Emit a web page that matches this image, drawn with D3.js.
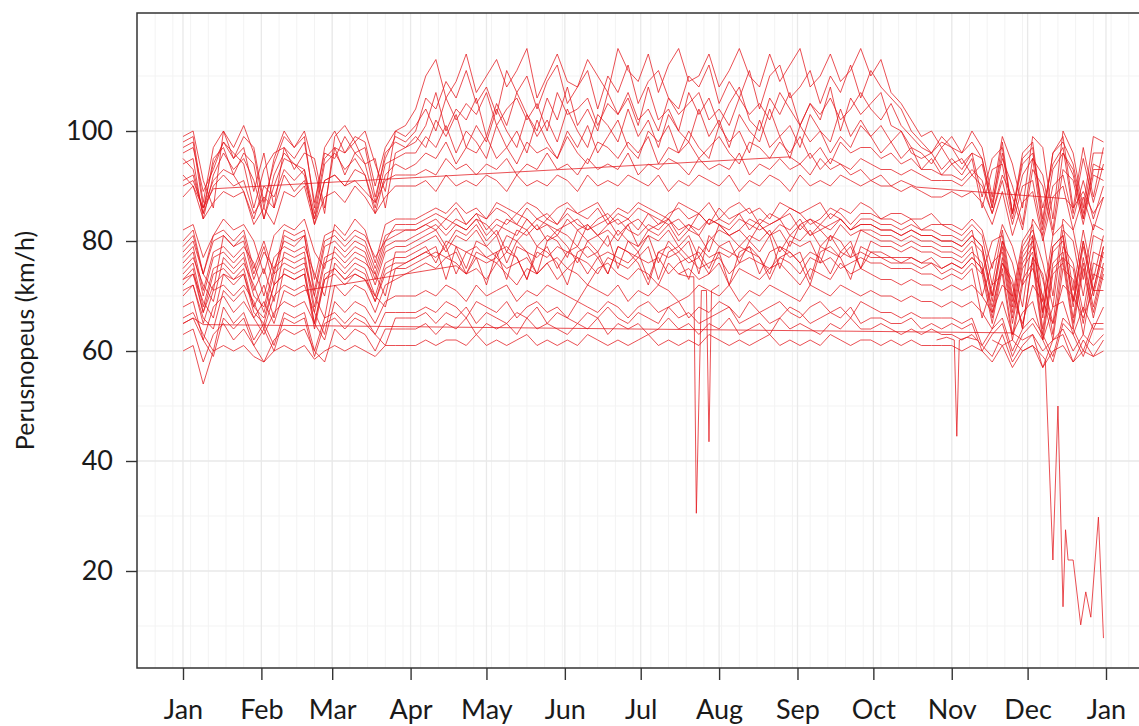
<!DOCTYPE html>
<html lang="fi">
<head>
<meta charset="UTF-8">
<title>Perusnopeus</title>
<script src="https://cdn.jsdelivr.net/npm/d3@7"></script>
<style>
  body { margin: 0; background: #fff; }
  .grid-major line { stroke: #e9e9e9; stroke-width: 1.3; }
  .grid-minor line { stroke: #f3f3f3; stroke-width: 1; }
  .speed { fill: none; stroke: #e3161b; stroke-opacity: 0.75; stroke-width: 1; }
  .axis text { font-family: Lato, sans-serif; font-size: 27px; fill: #1a1a1a; }
  .axis line { stroke: #333; stroke-width: 1.4; }
  .frame { fill: none; stroke: #333; stroke-width: 1.5; }
  .ytitle { font-family: Lato, sans-serif; font-size: 25px; fill: #1a1a1a; }
</style>
</head>
<body>
<svg width="1139" height="726"></svg>
<script>
// values are on a 4-day grid starting 1 Jan (null = missing day)
const startDate = Date.UTC(2018, 0, 1);
const stepDays = 4;
const yTicks = [20, 40, 60, 80, 100];
const yMinor = [10, 30, 50, 70, 90, 110];
const monthLabels = ["Jan","Feb","Mar","Apr","May","Jun","Jul","Aug","Sep","Oct","Nov","Dec","Jan"];

// upper roads (higher summer limit)
const a1 = [99,100,91,86,100,97,101,96,86,95,100,97,100,93,85,99,101,98,100,94,89,100,101,
  104,110,113,106,109,114,107,110,113,108,111,115,106,110,114,109,108,113,110,107,115,111,109,114,107,112,115,109,110,114,108,111,115,110,108,114,109,112,115,108,110,114,109,111,115,
  110,113,107,105,102,99,100,97,
  99,96,100,97,88,99,94,86,99,97,84,100,96,86,99,98];
const a2 = [97,98,86,94,98,95,97,89,96,86,97,95,98,87,96,95,99,96,97,88,95,99,98,
  100,106,104,109,106,111,105,108,103,111,107,110,104,109,112,105,108,111,104,110,107,112,105,109,111,106,104,110,108,112,105,109,106,111,104,110,112,106,108,111,105,110,107,112,106,
  111,108,106,104,100,98,96,99,
  97,94,96,88,95,97,85,95,97,83,96,98,94,85,96,96];
const a3 = [95,93,85,95,97,92,96,94,84,92,96,94,93,85,95,97,92,96,94,95,86,96,97,
  98,101,107,100,104,102,106,99,105,101,107,103,100,106,102,108,101,104,100,107,103,106,101,108,102,104,100,107,103,106,101,105,108,102,100,106,103,107,101,105,102,108,100,106,103,
  105,107,101,100,97,96,94,97,
  94,95,92,94,86,95,90,83,95,92,82,96,93,84,94,93];
const a4 = [96,97,89,93,98,96,94,86,93,96,97,93,96,95,86,97,96,98,94,87,96,98,97,
  99,97,102,99,103,97,101,98,104,100,97,103,99,102,98,104,100,97,103,101,98,104,99,102,97,103,100,98,104,99,102,97,103,100,98,104,99,101,97,103,100,98,104,99,102,
  99,101,98,100,96,95,96,93,
  95,93,96,95,87,96,85,94,96,86,94,97,85,95,87,94];
const a5 = [94,95,84,92,96,93,95,91,84,90,95,94,92,84,94,96,93,95,92,86,94,95,96,
  96,99,97,101,96,100,98,95,101,97,100,96,102,98,95,100,97,101,96,99,102,97,95,100,98,101,96,100,97,95,101,98,100,96,102,97,99,95,101,98,100,96,99,97,101,
  99,96,98,95,97,93,95,92,
  94,92,95,86,93,94,84,92,95,82,93,96,92,84,93,93];
const a6 = [92,90,86,91,93,92,89,84,90,88,93,91,93,83,91,92,90,93,92,85,92,94,93,
  94,96,95,98,94,97,96,99,95,97,94,98,96,97,95,99,96,94,98,97,95,98,96,99,94,97,96,98,95,97,99,96,94,98,97,95,98,96,99,95,97,94,98,96,97,
  97,95,96,94,95,93,93,92,
  92,91,93,91,85,92,88,82,93,90,81,93,91,83,92,91];
const a7 = [98,99,87,97,100,95,99,97,87,94,99,97,99,86,97,100,96,99,98,90,97,100,99,
  101,104,100,106,102,105,103,107,101,104,106,102,105,100,107,103,104,106,101,105,103,107,102,104,100,106,103,105,107,102,104,101,106,103,105,102,107,104,101,105,103,106,102,104,107,
  104,102,105,101,99,97,96,98,
  97,96,98,95,86,98,85,96,98,84,96,99,86,97,88,97];
const b1 = [91,92,85,90,92,90,91,85,88,86,92,89,91,84,91,92,90,91,89,87,91,92,92,
  92,93,92,95,93,94,92,94,93,95,92,94,93,96,93,94,92,95,93,94,93,96,92,94,93,95,94,92,95,93,94,93,96,92,94,93,95,93,94,92,95,93,94,93,95,
  94,93,93,92,93,92,91,91,
  91,90,92,90,85,91,83,90,91,81,90,92,84,91,84,90];
const b2 = [88,90,84,87,89,88,89,83,86,83,89,88,90,83,88,89,87,90,88,85,88,90,90,
  90,91,89,92,90,91,90,92,91,89,92,90,91,90,92,91,89,92,90,91,90,92,91,90,92,89,91,90,92,91,90,92,89,91,90,92,91,89,92,90,91,90,92,91,90,
  91,90,90,89,90,89,88,88,
  89,88,89,87,83,89,81,87,89,80,88,90,82,88,82,88];

// middle roads
const m1 = [82,83,77,81,84,82,83,80,74,81,83,82,84,78,75,83,81,84,82,76,83,84,84,
  84,85,86,85,87,85,86,84,87,86,85,87,86,84,86,87,85,86,87,84,86,85,87,86,85,84,87,86,85,87,84,86,87,85,86,84,87,86,85,86,87,84,86,85,87,
  86,84,85,85,84,84,85,83,
  83,82,84,82,75,83,79,72,84,81,70,84,82,73,83,82];
const m2 = [80,82,74,81,82,80,82,75,80,74,82,81,82,73,81,82,80,82,81,77,80,83,83,
  83,84,85,84,86,83,85,84,86,85,83,86,84,85,83,86,85,84,86,83,85,84,86,85,83,85,86,84,85,83,86,84,85,86,83,85,84,86,85,83,84,86,85,83,85,
  85,84,84,83,84,82,83,83,
  82,81,83,81,72,82,70,80,83,69,81,83,71,82,73,81];
const m3 = [78,80,74,71,81,79,80,73,78,75,80,79,81,70,79,80,78,80,79,74,80,81,82,
  82,83,84,82,84,83,85,82,84,83,85,84,82,84,83,85,83,82,84,85,83,84,82,85,84,83,84,82,85,83,84,83,85,82,84,83,84,85,82,84,83,85,84,82,84,
  84,83,83,82,83,82,82,81,
  81,80,82,74,80,81,69,79,82,76,68,82,80,70,81,80];
const m4 = [77,79,71,78,79,77,79,76,70,77,79,78,79,74,70,79,77,79,78,73,79,80,80,
  81,82,83,81,83,82,84,81,83,82,81,84,82,83,81,84,82,83,81,83,84,82,81,83,82,84,81,83,82,84,83,81,82,84,83,81,83,82,84,81,83,82,84,82,83,
  83,82,82,81,82,81,81,80,
  80,79,81,79,70,80,76,68,81,67,79,81,69,80,71,79];
const m5 = [76,78,70,77,78,76,78,71,75,69,78,77,78,68,77,78,76,78,77,72,78,79,79,
  80,81,82,79,82,81,83,80,82,78,82,81,83,80,82,81,79,83,81,82,80,83,79,82,81,83,80,82,81,78,83,81,82,80,83,81,82,79,83,81,82,80,83,81,82,
  82,81,81,80,81,80,80,79,
  79,78,80,78,69,79,67,77,80,66,78,80,68,79,70,78];
const m6 = [75,77,72,69,77,75,77,70,68,75,77,76,77,67,76,77,75,77,76,74,70,78,78,
  79,80,81,78,81,80,82,79,77,81,80,82,79,81,80,77,82,80,81,79,82,80,78,81,80,82,79,81,77,80,82,81,79,81,80,82,78,81,80,82,79,81,80,77,82,
  81,80,80,79,80,79,79,78,
  78,77,79,70,76,78,66,76,79,73,65,79,76,67,78,77];
const m7 = [74,76,68,75,76,74,76,72,67,74,76,75,76,70,66,76,74,76,75,70,76,77,77,
  78,79,76,80,79,75,80,79,81,76,80,78,74,80,81,79,76,80,78,81,75,80,79,81,76,80,78,80,74,81,79,80,76,80,78,81,75,80,79,80,76,81,78,80,75,
  80,79,79,78,79,78,78,77,
  77,76,78,76,67,77,65,75,78,64,76,78,66,77,68,76];
const m8 = [73,75,67,74,75,73,75,68,72,66,75,74,75,65,74,75,73,75,74,69,75,76,76,
  77,78,79,73,79,78,77,72,78,79,77,73,79,78,76,72,78,79,77,74,79,78,76,72,78,79,77,73,79,77,78,72,78,79,77,74,79,78,76,72,78,79,77,73,79,
  78,78,77,77,77,76,77,75,
  76,75,77,75,68,76,72,64,77,74,63,77,75,65,76,75];
const m9 = [72,74,69,66,74,72,74,67,65,72,74,73,74,64,73,74,72,74,73,70,68,75,75,
  76,77,78,77,78,74,78,77,76,78,77,73,78,77,79,78,77,74,77,78,77,76,78,73,78,77,78,76,77,74,78,77,79,78,77,73,77,78,76,78,77,74,78,77,78,
  77,77,76,76,76,75,76,74,
  75,74,76,74,65,75,63,73,76,62,74,76,64,75,66,74];
const m10 = [71,72,65,71,72,70,72,69,64,70,72,71,72,67,63,72,70,72,71,67,72,73,74,
  75,76,75,77,76,74,77,76,77,75,76,77,74,76,77,75,77,76,74,77,76,75,77,76,77,74,76,77,75,76,77,74,76,77,76,75,77,76,74,77,76,77,75,76,77,
  76,76,75,75,75,74,74,73,
  74,73,75,66,72,74,62,72,75,70,62,75,73,63,74,73];
const m11 = [79,81,74,80,81,79,81,74,79,72,81,80,81,71,80,81,79,81,80,75,81,82,82,
  82,83,82,84,83,82,84,83,81,84,83,82,84,83,82,83,84,82,83,84,81,83,84,82,83,84,82,83,81,84,83,82,84,83,82,83,84,81,83,84,82,83,84,82,83,
  83,82,82,81,82,81,81,80,
  80,79,81,79,70,80,68,78,81,67,79,81,69,80,71,79];
const m12 = [73,74,67,72,74,73,74,68,66,72,74,73,74,65,73,75,73,74,73,69,74,75,76,
  77,78,77,79,74,78,79,77,78,73,79,78,77,79,75,78,79,77,78,74,79,78,77,79,73,78,79,77,78,75,79,78,77,79,74,78,79,77,78,73,79,78,77,79,75,
  78,77,77,76,77,76,76,75,
  76,75,77,75,66,76,73,64,77,63,75,77,65,76,67,75];

// lower roads
const l1 = [70,72,66,64,71,69,71,66,69,65,71,70,71,
  null,null,null,null,null,null,null,null,null,null,null,null,null,null,
  75.5,
  74,75,73,76,74,72,75,74,76,73,75,74,72,75,76,74,73,75,74,72,76,74,75,73,74,76,72,75,74,73,75,76,74,72,75,74,73,76,74,75,
  74,73,73,72,73,72,72,71,
  72,71,72,70,67,72,70,65,72,69,65,72,70,66,71,71];
const l2 = [68,69,62,68,70,67,69,66,63,67,69,68,69,65,62,69,67,69,68,65,69,70,70,
  70,71,70,72,71,69,72,70,71,72,69,71,70,72,71,70,69,72,71,70,72,69,71,70,72,71,69,70,72,71,70,72,69,71,70,72,71,70,69,72,71,70,72,71,70,
  71,70,70,69,70,69,69,68,
  69,68,69,67,64,69,63,67,69,62,68,69,63,68,64,68];
const l3 = [66,67,63,60,68,65,67,62,65,61,67,66,67,60,66,67,65,67,66,63,67,67,67,
  67,68,67,69,68,66,69,68,67,69,66,68,69,67,68,66,69,68,67,69,68,66,68,69,67,68,69,66,68,67,69,68,66,69,67,68,69,67,66,68,69,67,68,66,69,
  68,67,67,66,67,66,66,66,
  66,65,66,61,64,66,60,64,66,63,59,66,64,60,65,65];
const l5 = [63,64,58,63,65,62,64,61,58,62,64,63,64,60,58,64,62,64,63,60,64,64,64,
  64,65,63,65,64,66,63,65,64,65,63,66,64,65,64,63,65,64,66,63,65,64,65,63,64,66,64,65,63,65,64,66,63,64,65,63,66,64,65,64,63,65,64,66,64,
  64,65,64,63,64,63,64,63,
  63,62,63,61,59,63,58,61,63,57,62,63,58,62,59,62];
const l6 = [60,61,54,60,61,60,61,59,58,60,61,60,61,58.5,60,61,60,61,60,59,61,61,61,
  61,62,61,62,62,61,63,61,62,61,62,63,61,62,61,62,61,63,62,61,62,61,62,63,61,62,61,62,61,63,62,61,62,61,62,63,61,62,61,62,61,63,62,61,62,
  62,61,62,61,62,61,61,61,
  61,60,61,60,58,61,57,60,61,57,60,61,58,60,59,60];
const l7 = [65,66,62,59,66,64,66,61,64,60,66,65,66,59,65,66,64,66,65,63,61,66,66,
  66,67,65,67,66,68,65,67,66,65,67,66,68,65,67,66,65,67,66,68,66,65,67,66,65,68,66,67,65,66,67,68,65,66,67,65,66,68,67,65,66,67,66,68,65,
  66,66,65,65,66,64,65,64,
  65,64,65,60,63,65,59,63,65,62,58,65,63,59,64,64];

// stations with long gaps or single-day drops (day of year, value)
const b3Days = [0,4,8,12,240,244,248,252,256,260,264,268,272,276,280,284,290,349,352,356,360,364];
const b3Vals = [90,91,86,89.5,95.3,94,96,93,95,94,92,93,91,92,90,91,89.8,87.7,86,89,85,88];
const l4Days = [0,4,8,328,332,336,340,344,348,352,356,360,364];
const l4Vals = [65,66,64.8,63.3,62,63,60,62,64,60,63,61,63];
const augDays = [196,200,202,203,205,207,208,209,212];
const augVals = [74,73.5,73.5,30.5,71,71,43.5,71,72];
const novDays = [298,302,305,306,307,310,314];
const novVals = [62,62.5,62,44.5,62,62.5,62];
const decDays = [320,324,328,332,336,340,341,344,346,348,349,350,352,355,357,359,362,364];
const decVals = [62,61,62,60,61,59,58.4,22,50,13.5,27.5,22,22,10.2,16.2,11.6,29.8,7.8];

const gridSeries = [a1,a2,a3,a4,a5,a6,a7,b1,b2,m1,m2,m3,m4,m5,m6,m7,m8,m9,m10,m11,m12,l1,l2,l3,l5,l6,l7];
const sparseSeries = [[b3Days,b3Vals],[l4Days,l4Vals],[augDays,augVals],[novDays,novVals],[decDays,decVals]];

const day = d => new Date(startDate + d * 864e5);

const svg = d3.select("svg");
const plot = { left: 137, right: 1150, top: 13, bottom: 668 };

const x = d3.scaleUtc().domain([day(0), day(365)]).range([183, 1106]);
const y = d3.scaleLinear().domain([20, 100]).range([571, 131]);

svg.append("clipPath").attr("id", "clip").append("rect")
  .attr("x", plot.left).attr("y", plot.top)
  .attr("width", plot.right - plot.left).attr("height", plot.bottom - plot.top);

const months = d3.utcMonth.range(day(0), day(366));

// minor grid (weekly / odd tens)
const gMinor = svg.append("g").attr("class", "grid-minor").attr("clip-path", "url(#clip)");
gMinor.selectAll(".v").data(d3.range(-11, 390, 7)).join("line")
  .attr("x1", d => x(day(d))).attr("x2", d => x(day(d)))
  .attr("y1", plot.top).attr("y2", plot.bottom);
gMinor.selectAll(".h").data(yMinor).join("line")
  .attr("x1", plot.left).attr("x2", plot.right)
  .attr("y1", d => y(d)).attr("y2", d => y(d));

// major grid
const gMajor = svg.append("g").attr("class", "grid-major").attr("clip-path", "url(#clip)");
gMajor.selectAll(".v").data(months).join("line")
  .attr("x1", d => x(d)).attr("x2", d => x(d))
  .attr("y1", plot.top).attr("y2", plot.bottom);
gMajor.selectAll(".h").data(yTicks).join("line")
  .attr("x1", plot.left).attr("x2", plot.right)
  .attr("y1", d => y(d)).attr("y2", d => y(d));

// lines
const line = d3.line().x(p => x(day(p[0]))).y(p => y(p[1]));
const paths = gridSeries.map(vals => vals.map((v, i) => [i * stepDays, v]).filter(p => p[1] != null))
  .concat(sparseSeries.map(([ds, vs]) => ds.map((d, i) => [d, vs[i]])));

svg.append("g").attr("clip-path", "url(#clip)")
  .selectAll("path").data(paths).join("path")
  .attr("class", "speed")
  .attr("d", line);

// frame
svg.append("path").attr("class", "frame")
  .attr("d", `M${plot.right},${plot.bottom}H${plot.left}V${plot.top}H${plot.right}`);

// axes
svg.append("g").attr("class", "axis")
  .attr("transform", `translate(${plot.left},0)`)
  .call(d3.axisLeft(y).tickValues(yTicks).tickSize(11).tickPadding(13))
  .call(g => g.select(".domain").remove());

svg.append("g").attr("class", "axis")
  .attr("transform", `translate(0,${plot.bottom})`)
  .call(d3.axisBottom(x).tickValues(months).tickSize(12).tickPadding(20)
    .tickFormat((d, i) => monthLabels[i]))
  .call(g => g.select(".domain").remove());

svg.append("text").attr("class", "ytitle")
  .attr("transform", `translate(34,${(plot.top + plot.bottom) / 2}) rotate(-90)`)
  .attr("text-anchor", "middle")
  .text("Perusnopeus (km/h)");
</script>
</body>
</html>
